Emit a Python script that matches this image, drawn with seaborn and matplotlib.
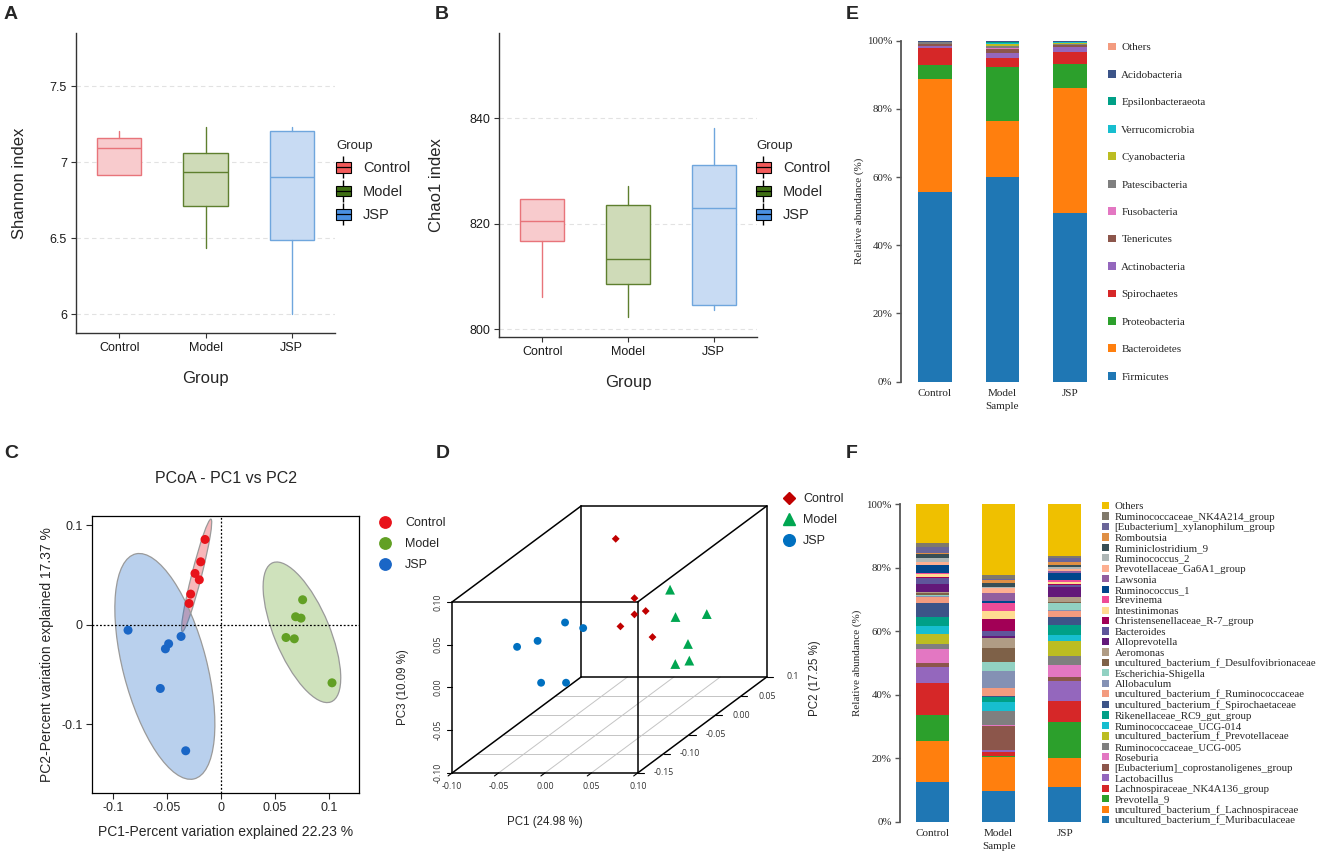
import numpy as np
import pandas as pd
import matplotlib
matplotlib.use("Agg")
import matplotlib.pyplot as plt
import seaborn as sns
from matplotlib.patches import Patch, Ellipse
from matplotlib.lines import Line2D
from matplotlib.legend_handler import HandlerTuple
from matplotlib.colors import to_rgba

# ---------------- data ----------------
groups = ["Control", "Model", "JSP"]

# A: Shannon index (box stats)
shannon_q1 = [6.917, 6.708, 6.485]
shannon_med = [7.096, 6.936, 6.901]
shannon_q3 = [7.158, 7.061, 7.208]
shannon_lo = [6.917, 6.434, 6.000]
shannon_hi = [7.202, 7.230, 7.230]

# B: Chao1 index (box stats)
chao_q1 = [816.7, 808.5, 804.5]
chao_med = [820.4, 813.2, 822.9]
chao_q3 = [824.75, 823.5, 831.1]
chao_lo = [806.1, 802.2, 803.7]
chao_hi = [824.75, 827.2, 838.2]

# C: PCoA PC1 vs PC2
pcoa_control_x = [-0.0148, -0.0188, -0.0241, -0.0201, -0.0281, -0.0296]
pcoa_control_y = [0.0859, 0.0634, 0.0517, 0.0453, 0.0309, 0.0215]
pcoa_model_x = [0.0756, 0.0691, 0.0741, 0.0602, 0.0679, 0.1028]
pcoa_model_y = [0.0252, 0.0081, 0.0067, -0.0128, -0.0141, -0.0584]
pcoa_jsp_x = [-0.0861, -0.0485, -0.0515, -0.0370, -0.0562, -0.0327]
pcoa_jsp_y = [-0.0054, -0.0191, -0.0242, -0.0117, -0.0641, -0.1268]

# D: 3D PCA
pca_control_pc1 = [-0.035, 0.013, 0.014, 0.013, 0.009, 0.038]
pca_control_pc2 = [0.05, 0.00, 0.02, 0.00, -0.02, -0.01]
pca_control_pc3 = [0.084, 0.037, 0.013, 0.018, 0.013, -0.004]
pca_model_pc1 = [0.018, 0.035, 0.052, 0.054, 0.057, 0.061]
pca_model_pc2 = [0.06, 0.04, 0.07, 0.03, 0.00, 0.02]
pca_model_pc3 = [0.020, -0.003, -0.013, -0.030, -0.040, -0.045]
pca_jsp_pc1 = [-0.034, -0.020, -0.058, -0.069, -0.032, 0.006]
pca_jsp_pc2 = [-0.05, -0.04, -0.06, -0.08, -0.10, -0.12]
pca_jsp_pc3 = [0.031, 0.020, 0.014, 0.016, -0.017, -0.008]

# E: phylum relative abundance (%), legend order (top -> bottom)
phyla = ["Others", "Acidobacteria", "Epsilonbacteraeota", "Verrucomicrobia",
         "Cyanobacteria", "Patescibacteria", "Fusobacteria", "Tenericutes",
         "Actinobacteria", "Spirochaetes", "Proteobacteria", "Bacteroidetes",
         "Firmicutes"]
phylum_control = [0.1, 0.2, 0.1, 0.05, 0.05, 0.4, 0.1, 0.5, 0.6, 4.9, 4.1, 33.2, 55.7]
phylum_model = [0.1, 0.2, 0.5, 0.3, 0.5, 0.4, 0.5, 1.0, 1.5, 2.8, 15.8, 16.3, 60.1]
phylum_jsp = [0.1, 0.2, 0.2, 0.1, 0.3, 0.3, 0.2, 0.4, 1.45, 3.45, 7.05, 36.9, 49.35]
phylum_colors = ["#F39B7F", "#3C5488", "#00A087", "#17BECF", "#BCBD22", "#7F7F7F",
                 "#E377C2", "#8C564B", "#9467BD", "#D62728", "#2CA02C", "#FF7F0E",
                 "#1F77B4"]

# F: genus relative abundance (%), legend order (top -> bottom)
genera = ["Others", "Ruminococcaceae_NK4A214_group", "[Eubacterium]_xylanophilum_group",
          "Romboutsia", "Ruminiclostridium_9", "Ruminococcus_2",
          "Prevotellaceae_Ga6A1_group", "Lawsonia", "Ruminococcus_1", "Brevinema",
          "Intestinimonas", "Christensenellaceae_R-7_group", "Bacteroides",
          "Alloprevotella", "Aeromonas", "uncultured_bacterium_f_Desulfovibrionaceae",
          "Escherichia-Shigella", "Allobaculum", "uncultured_bacterium_f_Ruminococcaceae",
          "uncultured_bacterium_f_Spirochaetaceae", "Rikenellaceae_RC9_gut_group",
          "Ruminococcaceae_UCG-014", "uncultured_bacterium_f_Prevotellaceae",
          "Ruminococcaceae_UCG-005", "Roseburia", "[Eubacterium]_coprostanoligenes_group",
          "Lactobacillus", "Lachnospiraceae_NK4A136_group", "Prevotella_9",
          "uncultured_bacterium_f_Lachnospiraceae", "uncultured_bacterium_f_Muribaculaceae"]
genus_control = [12.3, 1.2, 2.0, 0.3, 1.0, 1.4, 0.8, 0.2, 2.4, 0.4,
                 1.0, 0.3, 1.9, 2.4, 0.5, 0.5, 0.3, 0.2, 1.9, 4.5,
                 2.7, 2.7, 3.1, 1.6, 4.3, 1.3, 5.0, 10.2, 8.1, 13.0, 12.5]
genus_model = [22.3, 1.2, 0.3, 1.1, 1.3, 0.3, 1.3, 2.7, 0.5, 2.6,
               2.4, 3.8, 1.8, 0.5, 3.3, 4.2, 2.8, 5.6, 2.5, 0.3,
               1.6, 2.6, 0.2, 4.2, 0.4, 7.6, 0.5, 1.5, 0.3, 10.5, 9.8]
genus_jsp = [16.4, 0.6, 1.2, 0.8, 0.6, 0.8, 0.7, 0.6, 2.0, 0.7,
             0.6, 0.4, 0.8, 2.9, 1.8, 0.3, 2.1, 0.3, 1.8, 2.5,
             3.2, 2.1, 4.5, 3.0, 3.8, 1.3, 6.2, 6.7, 11.3, 9.0, 11.0]
genus_colors = ["#EFC000", "#80796B", "#6A6599", "#DF8F44", "#374E55", "#ADB6B6",
                "#FDAF91", "#925E9F", "#00468B", "#EE4C97", "#FFDC91", "#A20056",
                "#5F559B", "#631879", "#B09C85", "#7E6148", "#91D1C2", "#8491B4",
                "#F39B7F", "#3C5488", "#00A087", "#17BECF", "#BCBD22", "#7F7F7F",
                "#E377C2", "#8C564B", "#9467BD", "#D62728", "#2CA02C", "#FF7F0E",
                "#1F77B4"]

# ---------------- style ----------------
sns.set_theme(style="ticks")
plt.rcParams["font.family"] = ["Liberation Sans", "DejaVu Sans"]
SERIF = ["Liberation Serif", "DejaVu Serif"]

W, H = 1325, 860
fig = plt.figure(figsize=(W / 100, H / 100), dpi=100)


def px_axes(x0, y0, x1, y1, **kw):
    return fig.add_axes([x0 / W, 1 - y1 / H, (x1 - x0) / W, (y1 - y0) / H], **kw)


def fig_xy(x, y):
    return x / W, 1 - y / H


for lab, (x, y) in zip("ABCDEF", [(4, 6), (435, 6), (4, 445), (436, 445), (846, 6), (846, 445)]):
    fig.text(*fig_xy(x, y), lab, fontsize=14, fontweight="bold", ha="left", va="top")

box_edge = ["#E8747A", "#5E7F2E", "#6FA6DD"]
box_fill = ["#F8CBCD", "#CFDBB8", "#C8DBF3"]
key_colors = ["#F25A5A", "#3F6E14", "#4A90E2"]


def box_panel(ax, q1, med, q3, lo, hi, ylim, yticks, yticklabels, ylabel, leg_xy):
    stats = [dict(q1=q1[i], med=med[i], q3=q3[i], whislo=lo[i], whishi=hi[i], label=g)
             for i, g in enumerate(groups)]
    bp = ax.bxp(stats, positions=range(3), widths=0.51, patch_artist=True,
                showfliers=False, showcaps=False, manage_ticks=False)
    for i in range(3):
        bp["boxes"][i].set(facecolor=box_fill[i], edgecolor=box_edge[i], linewidth=1.0)
        bp["medians"][i].set(color=box_edge[i], linewidth=1.0)
        bp["whiskers"][2 * i].set(color=box_edge[i], linewidth=1.0)
        bp["whiskers"][2 * i + 1].set(color=box_edge[i], linewidth=1.0)
    ax.set_xlim(-0.5, 2.5)
    ax.set_ylim(*ylim)
    ax.set_xticks(range(3), groups)
    ax.set_yticks(yticks, yticklabels)
    ax.yaxis.grid(True, linestyle=(0, (4, 3)), color="#E2E2E2", linewidth=0.8)
    ax.set_axisbelow(True)
    sns.despine(ax=ax)
    for s in ["left", "bottom"]:
        ax.spines[s].set_color("#333333")
        ax.spines[s].set_linewidth(1.0)
    ax.tick_params(direction="out", length=3.5, width=0.8, color="#333333",
                   labelsize=9, labelcolor="#1a1a1a", pad=3)
    ax.set_xlabel("Group", fontsize=12)
    ax.set_ylabel(ylabel, fontsize=12)
    ax.xaxis.set_label_coords(0.5, -0.125)
    handles = []
    for c in key_colors:
        handles.append((Line2D([], [], color="black", lw=0, marker="|", markersize=16,
                               markeredgewidth=1.0),
                        Patch(facecolor=c, edgecolor="black", linewidth=0.8),
                        Line2D([], [], color="black", lw=0.9)))
    ax.legend(handles, groups, handler_map={tuple: HandlerTuple(ndivide=1)},
              title="Group", title_fontsize=9.5, fontsize=10.5, frameon=False,
              loc="upper left", bbox_to_anchor=fig_xy(*leg_xy), bbox_transform=fig.transFigure,
              borderpad=0, borderaxespad=0, handlelength=1.0, handleheight=0.75,
              handletextpad=0.85, labelspacing=0.65, alignment="left")


# ---------------- A ----------------
ax_a = px_axes(76, 33, 335, 333)
box_panel(ax_a, shannon_q1, shannon_med, shannon_q3, shannon_lo, shannon_hi,
          (5.875, 7.85), [6, 6.5, 7, 7.5], ["6", "6.5", "7", "7.5"], "Shannon index", (336, 140))
ax_a.yaxis.set_label_coords(-0.19, 0.5)

# ---------------- B ----------------
ax_b = px_axes(499.3, 33.3, 756.7, 336.7)
box_panel(ax_b, chao_q1, chao_med, chao_q3, chao_lo, chao_hi,
          (798.54, 856.1), [800, 820, 840], ["800", "820", "840"], "Chao1 index", (756, 140))
ax_b.yaxis.set_label_coords(-0.215, 0.5)

# ---------------- C ----------------
ax_c = px_axes(92.3, 516, 359, 792.7)
pcoa = pd.DataFrame({
    "PC1": pcoa_control_x + pcoa_model_x + pcoa_jsp_x,
    "PC2": pcoa_control_y + pcoa_model_y + pcoa_jsp_y,
    "Group": ["Control"] * len(pcoa_control_x) + ["Model"] * len(pcoa_model_x)
             + ["JSP"] * len(pcoa_jsp_x),
})
pcoa_pal = {"Control": "#E8131B", "Model": "#62A024", "JSP": "#1A66C6"}


def conf_ellipse(ax, x, y, color):
    cov = np.cov(x, y)
    vals, vecs = np.linalg.eigh(cov)
    order = vals.argsort()[::-1]
    vals, vecs = vals[order], vecs[:, order]
    angle = np.degrees(np.arctan2(vecs[1, 0], vecs[0, 0]))
    w, h = 2 * np.sqrt(5.991 * vals)
    ax.add_patch(Ellipse((np.mean(x), np.mean(y)), w, h, angle=angle,
                         facecolor=to_rgba(color, 0.3), edgecolor="#9a9a9a", linewidth=0.9, zorder=1))


for g in groups:
    sub = pcoa[pcoa["Group"] == g]
    conf_ellipse(ax_c, sub["PC1"].values, sub["PC2"].values, pcoa_pal[g])
ax_c.axhline(0, color="black", linestyle=(0, (1.5, 1.5)), linewidth=0.9, zorder=2)
ax_c.axvline(0, color="black", linestyle=(0, (1.5, 1.5)), linewidth=0.9, zorder=2)
sns.scatterplot(data=pcoa, x="PC1", y="PC2", hue="Group", palette=pcoa_pal, s=42,
                linewidth=0, legend=False, ax=ax_c, zorder=3)
ax_c.set_xlim(-0.1192, 0.1278)
ax_c.set_ylim(-0.169, 0.1095)
ax_c.set_xticks([-0.1, -0.05, 0, 0.05, 0.1], ["-0.1", "-0.05", "0", "0.05", "0.1"])
ax_c.set_yticks([-0.1, 0, 0.1], ["-0.1", "0", "0.1"])
for s in ax_c.spines.values():
    s.set_color("black")
    s.set_linewidth(0.9)
ax_c.tick_params(direction="out", length=4, width=0.8, labelsize=9, pad=3)
ax_c.set_xlabel("PC1-Percent variation explained 22.23 %", fontsize=10)
ax_c.set_ylabel("PC2-Percent variation explained 17.37 %", fontsize=10)
ax_c.xaxis.set_label_coords(0.5, -0.115)
ax_c.yaxis.set_label_coords(-0.145, 0.5)
ax_c.set_title("PCoA - PC1 vs PC2", fontsize=11.5, pad=24)
c_handles = [Line2D([], [], color=pcoa_pal[g], marker="o", lw=0, markersize=8.2) for g in groups]
ax_c.legend(c_handles, groups, fontsize=9, frameon=False, loc="upper left",
            bbox_to_anchor=fig_xy(377, 517), bbox_transform=fig.transFigure,
            borderpad=0, borderaxespad=0, handlelength=1.2, handletextpad=1.05,
            labelspacing=0.72)

# ---------------- D (oblique 3D box) ----------------
ax_d = px_axes(420, 470, 840, 840)
ax_d.set_xlim((420 - 545) / 928, (840 - 545) / 928)
ax_d.set_ylim((687.4 - 840) / 855, (687.4 - 470) / 855)
ax_d.axis("off")
DX, DY, PC2_MIN, PC2_MAX = 0.556, 0.449, -0.15, 0.10


def proj(pc1, pc2, pc3):
    pc1, pc2, pc3 = np.asarray(pc1, float), np.asarray(pc2, float), np.asarray(pc3, float)
    return pc1 + DX * (pc2 - PC2_MIN), pc3 + DY * (pc2 - PC2_MIN)


def seg3(p, q, **kw):
    u, v = proj([p[0], q[0]], [p[1], q[1]], [p[2], q[2]])
    ax_d.plot(u, v, **kw)


# floor grid
for t in [-0.05, 0.0, 0.05]:
    seg3((t, PC2_MIN, -0.1), (t, PC2_MAX, -0.1), color="#C4C4C4", lw=0.7)
for t in [-0.10, -0.05, 0.0, 0.05]:
    seg3((-0.1, t, -0.1), (0.1, t, -0.1), color="#C4C4C4", lw=0.7)
# box edges
corners = [(a, b, c) for a in (-0.1, 0.1) for b in (PC2_MIN, PC2_MAX) for c in (-0.1, 0.1)]
for i, p in enumerate(corners):
    for q in corners[i + 1:]:
        if sum(pi != qi for pi, qi in zip(p, q)) == 1:
            seg3(p, q, color="black", lw=1.1)
# ticks and tick labels
tick_kw = dict(fontsize=6.3, color="#333333", family=["Open Sans", "DejaVu Sans"])
for t in [-0.10, -0.05, 0.0, 0.05, 0.10]:
    seg3((t, PC2_MIN, -0.1), (t, PC2_MIN - 0.008, -0.1), color="black", lw=0.8)
    u, v = proj(t, PC2_MIN, -0.1)
    ax_d.text(u, v - 0.0158, f"{t:.2f}", ha="center", va="center", **tick_kw)
for t in [-0.10, -0.05, 0.0, 0.05, 0.10]:
    u, v = proj(-0.1, PC2_MIN, t)
    ax_d.plot([u, u - 0.006], [v, v], color="black", lw=0.8)
    ax_d.text(u - 0.0156, v, f"{t:.2f}", ha="center", va="center", rotation=90, **tick_kw)
for t, lab in zip([-0.15, -0.10, -0.05, 0.0, 0.05, 0.10],
                  ["-0.15", "-0.10", "-0.05", "0.00", "0.05", "0.1"]):
    u, v = proj(0.1, t, -0.1)
    ax_d.plot([u, u + 0.007], [v, v], color="black", lw=0.8)
    ax_d.text(u + 0.028, v, lab, ha="center", va="center", **tick_kw)

pca = pd.DataFrame({
    "PC1": pca_control_pc1 + pca_model_pc1 + pca_jsp_pc1,
    "PC2": pca_control_pc2 + pca_model_pc2 + pca_jsp_pc2,
    "PC3": pca_control_pc3 + pca_model_pc3 + pca_jsp_pc3,
    "Group": ["Control"] * 6 + ["Model"] * 6 + ["JSP"] * 6,
})
pca["u"], pca["v"] = proj(pca["PC1"], pca["PC2"], pca["PC3"])
pca_pal = {"Control": "#C00000", "Model": "#00A651", "JSP": "#0070C0"}
pca_markers = {"Control": "D", "Model": "^", "JSP": "o"}
sns.scatterplot(data=pca, x="u", y="v", hue="Group", style="Group", size="Group",
                palette=pca_pal, markers=pca_markers,
                sizes={"Control": 16, "Model": 50, "JSP": 32},
                linewidth=0, legend=False, ax=ax_d, zorder=5)
ax_d.text(0.0, -0.157, "PC1 (24.98 %)", ha="center", va="center", fontsize=8.3)
ax_d.text(-0.153, 0.0, "PC3 (10.09 %)", ha="center", va="center", rotation=90, fontsize=8.3)
ax_d.text(0.291, 0.011, "PC2 (17.25 %)", ha="center", va="center", rotation=90, fontsize=8.3)
d_handles = [Line2D([], [], color=pca_pal["Control"], marker="D", lw=0, markersize=6),
             Line2D([], [], color=pca_pal["Model"], marker="^", lw=0, markersize=8.6),
             Line2D([], [], color=pca_pal["JSP"], marker="o", lw=0, markersize=8.4)]
ax_d.legend(d_handles, groups, fontsize=9, frameon=False, loc="upper left",
            bbox_to_anchor=fig_xy(781, 493), bbox_transform=fig.transFigure,
            borderpad=0, borderaxespad=0, handlelength=1.2, handletextpad=0.55,
            labelspacing=0.72)


# ---------------- E / F stacked bars ----------------
def stacked_panel(ax, names, vals_by_sample, colors, width, leg_xy, leg_fs, leg_spacing, hl):
    n = len(names)
    for i in range(n):
        tops = [sum(v[i:]) for v in vals_by_sample]
        sns.barplot(x=groups, y=tops, order=groups, color=colors[i], width=width,
                    saturation=1, errorbar=None, linewidth=0, ax=ax)
    ax.set_ylim(0, 100)
    ax.set_yticks([0, 20, 40, 60, 80, 100], ["0%", "20%", "40%", "60%", "80%", "100%"])
    for lab in ax.get_yticklabels() + ax.get_xticklabels():
        lab.set_family(SERIF)
    ax.tick_params(axis="y", direction="out", length=3.5, width=1.0, color="#555555",
                   labelsize=7.8, pad=2.5)
    ax.tick_params(axis="x", length=0, labelsize=8, pad=5)
    sns.despine(ax=ax, bottom=True)
    ax.spines["left"].set_color("#555555")
    ax.spines["left"].set_linewidth(1.3)
    ax.set_xlabel("Sample", fontsize=8, family=SERIF)
    ax.set_ylabel("Relative abundance (%)", fontsize=8, family=SERIF)
    handles = [Patch(facecolor=c, edgecolor="none") for c in colors]
    ax.legend(handles, names, prop={"family": SERIF, "size": leg_fs}, frameon=False,
              loc="upper left", bbox_to_anchor=fig_xy(*leg_xy), bbox_transform=fig.transFigure,
              borderpad=0, borderaxespad=0, handlelength=hl, handleheight=hl,
              handletextpad=0.5, labelspacing=leg_spacing)


ax_e = px_axes(900.7, 40.7, 1103.75, 381.7)
stacked_panel(ax_e, phyla, [phylum_control, phylum_model, phylum_jsp], phylum_colors,
              0.49, (1108, 42.5), 8, 1.59, 0.7)
ax_e.set_xlim(-0.508, 2.5)
ax_e.xaxis.set_label_coords(0.5, -0.06)
ax_e.yaxis.set_label_coords(-0.18, 0.5)

ax_f = px_axes(900, 504.3, 1097.7, 821.7)
stacked_panel(ax_f, genera, [genus_control, genus_model, genus_jsp], genus_colors,
              0.5, (1102, 502), 7.8, 0.095, 0.65)
ax_f.set_xlim(-0.495, 2.5)
ax_f.xaxis.set_label_coords(0.5, -0.064)
ax_f.yaxis.set_label_coords(-0.19, 0.5)

fig.savefig("out.png", dpi=100)
